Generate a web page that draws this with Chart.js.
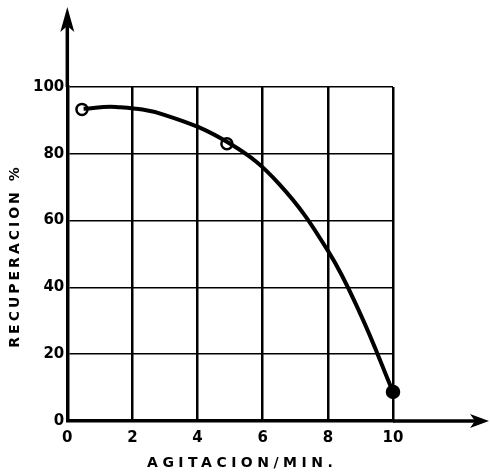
<!DOCTYPE html>
<html>
<head>
<meta charset="utf-8">
<script src="https://cdn.jsdelivr.net/npm/chart.js@4"></script>
<style>
  html, body { margin: 0; padding: 0; background: #fff; }
  #wrap { width: 490px; height: 474px; }
</style>
</head>
<body>
<div id="wrap"><canvas id="chart"></canvas></div>
<script>
// ── data
const curveX = [0.5, 1.5, 3, 5, 6.5, 8, 9, 10];
const curveY = [93.5, 94, 91.6, 83, 71, 51, 32, 8.7];
const pointX = [0.45, 4.9, 10];
const pointY = [93.3, 83, 8.7];
const xTitle = 'AGITACION/MIN.';
const yTitle = 'RECUPERACION %';

const INK = '#000';
const FONT = "'DejaVu Sans', sans-serif";

// axis arrows beyond the grid + spaced axis titles
const arrowsAndTitles = {
  id: 'arrowsAndTitles',
  afterDraw(chart) {
    const { ctx, chartArea: a, scales } = chart;
    const y0 = scales.y.getPixelForValue(0);
    const x0 = scales.x.getPixelForValue(0);
    ctx.save();
    ctx.strokeStyle = INK;
    ctx.fillStyle = INK;
    ctx.lineWidth = 3.5;
    // x axis
    ctx.beginPath();
    ctx.moveTo(a.right, y0);
    ctx.lineTo(chart.width - 10, y0);
    ctx.stroke();
    ctx.beginPath();
    ctx.moveTo(chart.width - 1, y0);
    ctx.lineTo(chart.width - 20, y0 - 7);
    ctx.lineTo(chart.width - 15, y0);
    ctx.lineTo(chart.width - 20, y0 + 7);
    ctx.closePath();
    ctx.fill();
    // y axis
    ctx.beginPath();
    ctx.moveTo(x0, a.top);
    ctx.lineTo(x0, 20);
    ctx.stroke();
    ctx.beginPath();
    ctx.moveTo(x0, 7);
    ctx.lineTo(x0 - 7, 32);
    ctx.lineTo(x0, 26);
    ctx.lineTo(x0 + 7, 32);
    ctx.closePath();
    ctx.fill();

    // titles
    ctx.font = 'bold 14px ' + FONT;
    ctx.textAlign = 'center';
    ctx.textBaseline = 'middle';
    ctx.letterSpacing = '4.5px';
    ctx.fillText(xTitle, (a.left + a.right) / 2 + 12, 463);
    ctx.translate(15, (a.top + a.bottom) / 2 + 2);
    ctx.rotate(-Math.PI / 2);
    ctx.letterSpacing = '3px';
    ctx.fillText(yTitle, 0, 0);
    ctx.restore();
  },
};

new Chart(document.getElementById('chart'), {
  type: 'scatter',
  data: {
    datasets: [
      {
        type: 'line',
        data: curveX.map((x, i) => ({ x, y: curveY[i] })),
        borderColor: INK,
        borderWidth: 4,
        pointRadius: 0,
        tension: 0.4,
        clip: false,
      },
      {
        data: pointX.map((x, i) => ({ x, y: pointY[i] })),
        pointRadius: [5.5, 5.5, 6],
        pointBorderWidth: 2.5,
        pointBorderColor: INK,
        pointBackgroundColor: ['#fff', '#fff', INK],
        clip: false,
      },
    ],
  },
  options: {
    responsive: true,
    maintainAspectRatio: false,
    animation: false,
    layout: { padding: { left: 30, right: 97, top: 87, bottom: 19 } },
    plugins: { legend: { display: false }, tooltip: { enabled: false } },
    scales: {
      x: {
        type: 'linear',
        min: 0,
        max: 10,
        ticks: { stepSize: 2, color: INK, padding: 8, font: { family: FONT, weight: 'bold', size: 15 } },
        grid: { color: INK, lineWidth: 2.5, drawTicks: false },
        border: { color: INK, width: 3.5 },
      },
      y: {
        min: 0,
        max: 100,
        ticks: { stepSize: 20, color: INK, padding: 3, font: { family: FONT, weight: 'bold', size: 15 } },
        grid: { color: INK, lineWidth: 1.6, drawTicks: false },
        border: { color: INK, width: 3.5 },
      },
    },
  },
  plugins: [arrowsAndTitles],
});
</script>
</body>
</html>
